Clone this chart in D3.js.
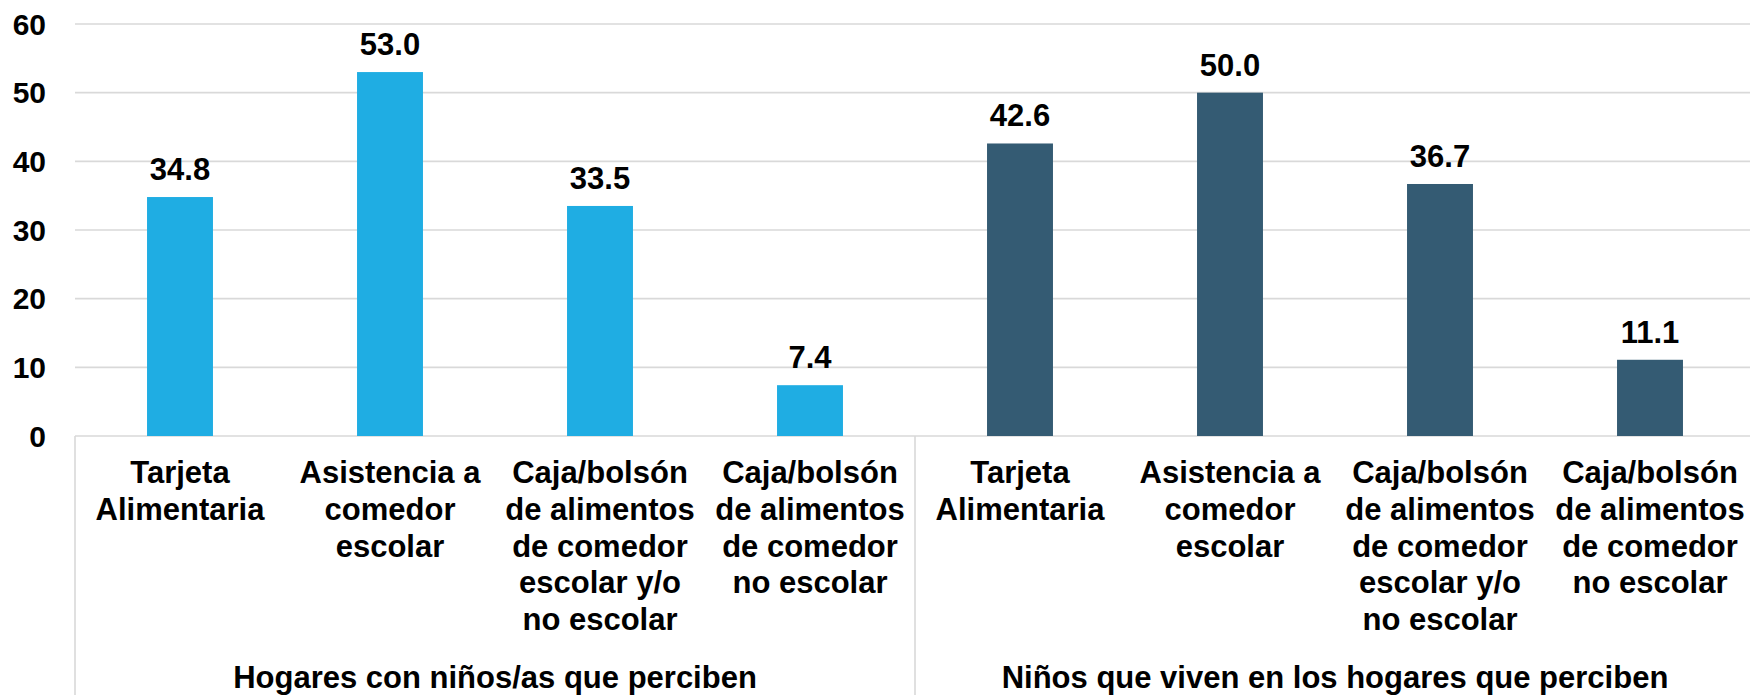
<!DOCTYPE html>
<html>
<head>
<meta charset="utf-8">
<script src="https://cdn.jsdelivr.net/npm/d3@7"></script>
<style>
  body { margin: 0; background: #fff; }
  svg { display: block; font-family: "Liberation Sans", Arial, sans-serif; font-weight: bold; }
</style>
</head>
<body>
<svg width="1750" height="695"></svg>
<script>
// data
var groups = ["Hogares con niños/as que perciben", "Niños que viven en los hogares que perciben"];
var categories = [
  ["Tarjeta", "Alimentaria"],
  ["Asistencia a", "comedor", "escolar"],
  ["Caja/bolsón", "de alimentos", "de comedor", "escolar y/o", "no escolar"],
  ["Caja/bolsón", "de alimentos", "de comedor", "no escolar"]
];
var hogaresValues = [34.8, 53.0, 33.5, 7.4];
var ninosValues = [42.6, 50.0, 36.7, 11.1];
var yTicks = [0, 10, 20, 30, 40, 50, 60];

var colors = ["#1fade3", "#345b73"];
var gridColor = "#d9d9d9";

var svg = d3.select("svg");

// flatten into one row of bars
var bars = [];
[hogaresValues, ninosValues].forEach(function(vals, g){
  vals.forEach(function(v, i){
    bars.push({group: g, cat: i, value: v, key: g + "-" + i});
  });
});

// plot area (window.top is reserved, so use other names)
var plotLeft = 75, plotRight = 1755, plotTop = 24, plotBottom = 436;

var x = d3.scaleBand()
  .domain(bars.map(function(d){ return d.key; }))
  .range([plotLeft, plotRight])
  .paddingInner(0.686)
  .paddingOuter(0.343);

var y = d3.scaleLinear().domain([0, 60]).range([plotBottom, plotTop]);

// gridlines
svg.append("g").selectAll("line").data(yTicks).enter()
  .append("line")
  .attr("x1", plotLeft).attr("x2", 1750)
  .attr("y1", function(d){ return y(d); })
  .attr("y2", function(d){ return y(d); })
  .attr("stroke", gridColor)
  .attr("stroke-width", 1.6);

// y tick labels
svg.append("g").selectAll("text").data(yTicks).enter()
  .append("text")
  .attr("x", 46)
  .attr("y", function(d){ return y(d); })
  .attr("dy", "0.36em")
  .attr("text-anchor", "end")
  .attr("font-size", 30)
  .text(function(d){ return d; });

// bars
svg.append("g").selectAll("rect").data(bars).enter()
  .append("rect")
  .attr("x", function(d){ return x(d.key); })
  .attr("width", x.bandwidth())
  .attr("y", function(d){ return y(d.value); })
  .attr("height", function(d){ return y(0) - y(d.value); })
  .attr("fill", function(d){ return colors[d.group]; });

// value labels
svg.append("g").selectAll("text").data(bars).enter()
  .append("text")
  .attr("x", function(d){ return x(d.key) + x.bandwidth() / 2; })
  .attr("y", function(d){ return y(d.value) - 17; })
  .attr("text-anchor", "middle")
  .attr("font-size", 31)
  .text(function(d){ return d.value.toFixed(1); });

// category axis: separators
var step = x.step();
var seps = [0, 1, 2].map(function(i){ return plotLeft + i * 4 * step; });
svg.append("g").selectAll("line").data(seps).enter()
  .append("line")
  .attr("x1", function(d){ return d; }).attr("x2", function(d){ return d; })
  .attr("y1", plotBottom).attr("y2", 695)
  .attr("stroke", gridColor)
  .attr("stroke-width", 1.6);

// category labels
var catText = svg.append("g").selectAll("text").data(bars).enter()
  .append("text")
  .attr("text-anchor", "middle")
  .attr("font-size", 31);
catText.selectAll("tspan")
  .data(function(d){
    var cx = x(d.key) + x.bandwidth() / 2;
    return categories[d.cat].map(function(l, j){ return {line: l, j: j, cx: cx}; });
  })
  .enter().append("tspan")
  .attr("x", function(d){ return d.cx; })
  .attr("y", function(d){ return 483 + d.j * 36.8; })
  .text(function(d){ return d.line; });

// group labels
svg.append("g").selectAll("text").data(groups).enter()
  .append("text")
  .attr("x", function(d, i){ return plotLeft + (i * 4 + 2) * step; })
  .attr("y", 688)
  .attr("text-anchor", "middle")
  .attr("font-size", 31)
  .text(function(d){ return d; });
</script>
</body>
</html>
